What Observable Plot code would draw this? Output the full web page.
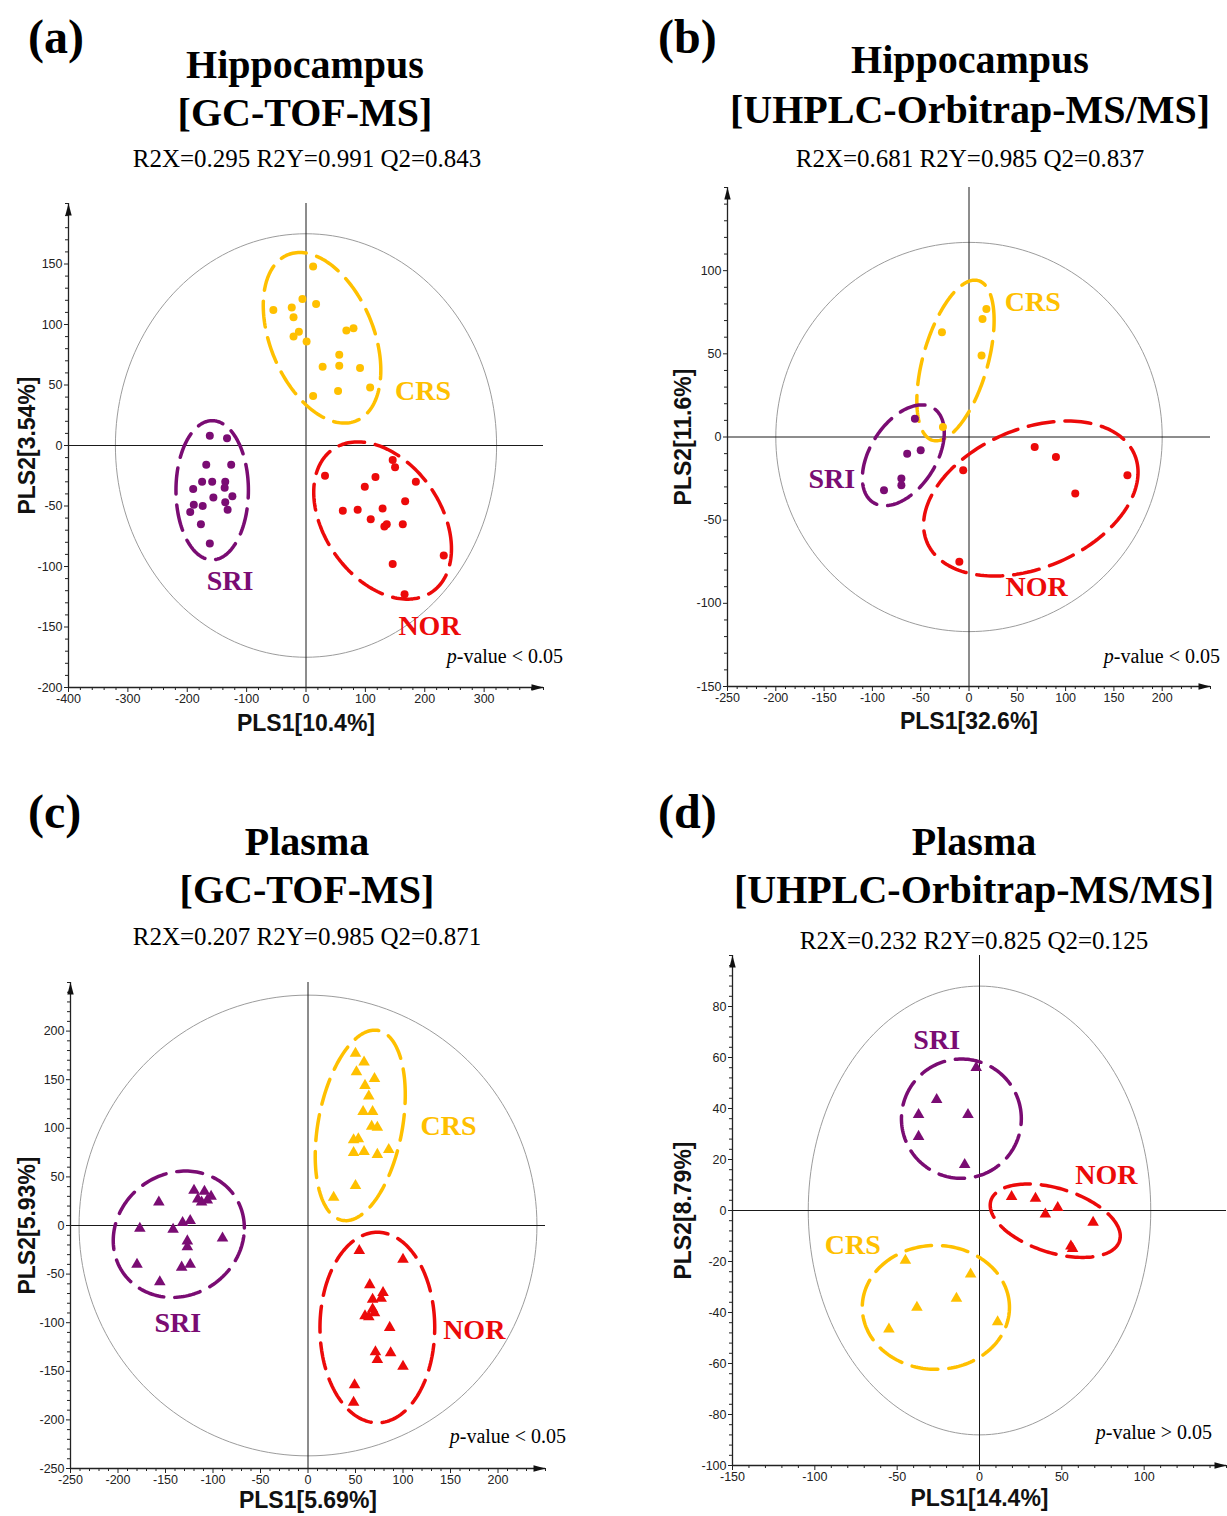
<!DOCTYPE html>
<html><head><meta charset="utf-8">
<script src="https://cdn.jsdelivr.net/npm/d3@7"></script>
<script src="https://cdn.jsdelivr.net/npm/@observablehq/plot@0.6"></script>
<style>
body{margin:0;background:#fff;}
#root{position:relative;width:1227px;height:1516px;overflow:hidden;font-family:"Liberation Serif","Times New Roman",serif;color:#000;}
.t{position:absolute;white-space:nowrap;line-height:1;}
.panel{position:absolute;}
.panel svg{overflow:visible;}
</style></head><body><div id="root"></div>
<script>
// ---------- colours per group ----------
const groupColors = {CRS: "#FFC000", SRI: "#7A0C73", NOR: "#EC0A0A"};

// ---------- (a) Hippocampus GC-TOF-MS ----------
const aCRS = [[12,148],[-6,121],[17,117],[-55,112],[-24,114],[-21,106],[-12,94],[-21,90],[1,86],[68,95],[80,97],[56,75],[28,65],[56,66],[91,64],[54,45],[108,48],[12,41]];
const aSRI = [[-162,8],[-133,6],[-168,-16],[-126,-16],[-175,-30],[-158,-30],[-136,-30],[-190,-36],[-137,-35],[-156,-43],[-124,-42],[-189,-49],[-174,-50],[-136,-47],[-195,-55],[-132,-53],[-177,-65],[-162,-81]];
const aNOR = [[32,-25],[117,-26],[99,-34],[146,-12],[150,-18],[185,-30],[167,-46],[62,-54],[87,-53],[129,-52],[109,-61],[132,-67],[136,-65],[163,-65],[232,-91],[146,-98],[166,-123]];
const aEllipses = [
  {group:"CRS", cx:27, cy:89, w:99, h:70.5, k:-0.38},
  {group:"SRI", cx:-158, cy:-37, w:61, h:57.5, k:0},
  {group:"NOR", cx:129, cy:-62, w:116, h:65, k:-0.36}];
const aHotelling = {rx:321, ry:175};
const aLabels = [{group:"CRS", x:197, y:45},{group:"SRI", x:-128, y:-112},{group:"NOR", x:208, y:-149}];
const aXTicks = [-400,-300,-200,-100,0,100,200,300];
const aYTicks = [-200,-150,-100,-50,0,50,100,150];

// ---------- (b) Hippocampus UHPLC ----------
const bCRS = [[-28,63],[18,77],[14,71],[13,49],[-27,6]];
const bSRI = [[-56,11],[-64,-10],[-50,-8],[-70,-25],[-70,-29],[-88,-32]];
const bNOR = [[68,-6],[90,-12],[-6,-20],[164,-23],[110,-34],[-10,-75]];
const bEllipses = [
  {group:"CRS", cx:-14, cy:46, w:40, h:48.3, k:0.5},
  {group:"SRI", cx:-68, cy:-11, w:42.4, h:30.3, k:0.45},
  {group:"NOR", cx:64, cy:-37, w:111, h:46.6, k:0.34}];
const bHotelling = {rx:200, ry:117};
const bLabels = [{group:"CRS", x:66, y:81},{group:"SRI", x:-142, y:-25},{group:"NOR", x:70, y:-90}];
const bXTicks = [-250,-200,-150,-100,-50,0,50,100,150,200];
const bYTicks = [-150,-100,-50,0,50,100];

// ---------- (c) Plasma GC-TOF-MS ----------
const cCRS = [[50,177],[59,168],[51,158],[70,151],[60,144],[64,133],[58,117],[68,117],[67,102],[73,101],[48,88],[53,89],[48,75],[59,76],[73,73],[85,78],[50,41],[27,29]];
const cSRI = [[-157,24],[-120,36],[-109,35],[-116,27],[-106,26],[-102,30],[-112,24],[-132,3],[-124,5],[-177,-3],[-142,-4],[-90,-13],[-127,-16],[-127,-22],[-180,-40],[-133,-43],[-124,-40],[-156,-58]];
const cNOR = [[54,-26],[100,-35],[65,-61],[79,-69],[68,-76],[77,-75],[68,-86],[60,-93],[70,-90],[64,-94],[86,-105],[71,-130],[87,-131],[73,-138],[100,-145],[49,-164],[48,-182]];
const cEllipses = [
  {group:"CRS", cx:55, cy:103, w:47.4, h:98, k:0.32},
  {group:"SRI", cx:-136, cy:-9, w:69, h:65, k:0.1},
  {group:"NOR", cx:73, cy:-105, w:60.4, h:98, k:0}];
const cHotelling = {rx:241, ry:237};
const cLabels = [{group:"CRS", x:148, y:102},{group:"SRI", x:-137, y:-100},{group:"NOR", x:175, y:-108}];
const cXTicks = [-250,-200,-150,-100,-50,0,50,100,150,200];
const cYTicks = [-250,-200,-150,-100,-50,0,50,100,150,200];

// ---------- (d) Plasma UHPLC ----------
const dSRI = [[-2,56],[-26,43.5],[-37,37.6],[-7,37.6],[-37,29],[-9,18]];
const dNOR = [[19.5,5.4],[34,4.7],[47.5,1.1],[40,-1.4],[69,-4.7],[56.5,-15],[55.5,-14]];
const dCRS = [[-45,-19.6],[-5.4,-25],[-14,-34.5],[-38,-38],[-55,-46.5],[11,-43.7]];
const dEllipses = [
  {group:"SRI", cx:-11, cy:36, w:36.4, h:23.4, k:0},
  {group:"NOR", cx:46, cy:-4, w:39.5, h:14.4, k:-0.42},
  {group:"CRS", cx:-26.5, cy:-38, w:44.7, h:24.3, k:0}];
const dHotelling = {rx:104, ry:88};
const dLabels = [{group:"SRI", x:-26, y:67},{group:"NOR", x:77, y:14},{group:"CRS", x:-77, y:-13.5}];
const dXTicks = [-150,-100,-50,0,50,100];
const dYTicks = [-100,-80,-60,-40,-20,0,20,40,60,80];

// ---------- helpers ----------
function ellipsePts(e, n = 180) {
  const s = Math.sqrt(1 - e.k * e.k);
  return d3.range(n + 1).map(i => {
    const t = 2 * Math.PI * i / n;
    return {x: e.cx + e.w * Math.cos(t), y: e.cy + e.h * (e.k * Math.cos(t) + s * Math.sin(t))};
  });
}
const arrowSymbol = {draw(ctx) { ctx.moveTo(0, 0); ctx.lineTo(3.2, 12); ctx.lineTo(-3.2, 12); ctx.closePath(); }};
function minorTicks(domain, step, major) {
  const m = new Set(major);
  return d3.range(domain[0], domain[1] + 1e-9, step).filter(v => !m.has(v));
}

function makePanel(cfg) {
  const marks = [];
  const [x0, x1] = cfg.xDomain, [y0, y1] = cfg.yDomain;
  marks.push(Plot.line(ellipsePts({cx:0, cy:0, w:cfg.hot.rx, h:cfg.hot.ry, k:0}), {x:"x", y:"y", stroke:"#9c9c9c", strokeWidth:1}));
  marks.push(Plot.ruleX([0], {stroke:"#1a1a1a", strokeWidth:1}));
  marks.push(Plot.ruleY([0], {stroke:"#1a1a1a", strokeWidth:1}));
  marks.push(Plot.ruleX([x0], {stroke:"#222", strokeWidth:1.3}));
  marks.push(Plot.ruleY([y0], {stroke:"#222", strokeWidth:1.3}));
  const tf = d => String(d);
  marks.push(Plot.axisX({ticks: cfg.xTicks, tickSize:5, tickPadding:2, tickFormat: tf, label:null, color:"#222", fontSize:12.5}));
  marks.push(Plot.axisX({ticks: minorTicks(cfg.xDomain, cfg.xMinor, cfg.xTicks), tickSize:3, tickFormat: () => "", label:null, color:"#222"}));
  marks.push(Plot.axisY({ticks: cfg.yTicks, tickSize:4, tickPadding:2, tickFormat: tf, label:null, color:"#222", fontSize:12.5}));
  marks.push(Plot.axisY({ticks: minorTicks(cfg.yDomain, cfg.yMinor, cfg.yTicks), tickSize:3, tickFormat: () => "", label:null, color:"#222"}));
  for (const e of cfg.ellipses) {
    marks.push(Plot.line(ellipsePts(e), {x:"x", y:"y", stroke: groupColors[e.group], strokeWidth:3.5, strokeDasharray:"26,11"}));
  }
  for (const [g, pts] of Object.entries(cfg.points)) {
    marks.push(Plot.dot(pts, {x: d => d[0], y: d => d[1], fill: groupColors[g], r: cfg.r, symbol: cfg.symbol}));
  }
  for (const l of cfg.labels) {
    marks.push(Plot.text([l], {x:"x", y:"y", text:"group", fill: groupColors[l.group], fontSize:28, fontWeight:"bold", fontFamily:"Liberation Serif, Times New Roman, serif"}));
  }
  marks.push(Plot.dot([[x0, y1]], {x: d => d[0], y: d => d[1], symbol: arrowSymbol, fill:"#111", r:5}));
  marks.push(Plot.dot([[x1, y0]], {x: d => d[0], y: d => d[1], symbol: arrowSymbol, fill:"#111", r:5, rotate:90}));
  marks.push(Plot.text([cfg.xLabel], {text: d => d, frameAnchor:"bottom", textAnchor:"middle", lineAnchor:"middle", dy: cfg.xTitleDy, fontSize:23, fontWeight:"bold", fontFamily:"Liberation Sans, Arial, sans-serif", fill:"#111"}));
  marks.push(Plot.text([cfg.yLabel], {text: d => d, frameAnchor:"left", textAnchor:"middle", lineAnchor:"middle", dx: cfg.yTitleDx, rotate:-90, fontSize:23, fontWeight:"bold", fontFamily:"Liberation Sans, Arial, sans-serif", fill:"#111"}));

  const svg = Plot.plot({
    width: cfg.w, height: cfg.h,
    marginLeft: cfg.m[0], marginRight: cfg.m[1], marginTop: cfg.m[2], marginBottom: cfg.m[3],
    x: {domain: cfg.xDomain},
    y: {domain: cfg.yDomain},
    style: {fontFamily: "Liberation Sans, Arial, sans-serif", fontSize: "12.5px", background: "transparent", overflow: "visible"},
    marks
  });
  const div = document.createElement("div");
  div.className = "panel";
  div.style.left = cfg.pos[0] + "px";
  div.style.top = cfg.pos[1] + "px";
  div.appendChild(svg);
  document.getElementById("root").appendChild(div);
}

function addText(html, x, y, size, opts = {}) {
  const d = document.createElement("div");
  d.className = "t";
  d.innerHTML = html;
  d.style.left = x + "px";
  d.style.top = y + "px";
  d.style.fontSize = size + "px";
  d.style.fontWeight = opts.bold ? "bold" : "normal";
  const ax = opts.anchor === "start" ? "0" : opts.anchor === "end" ? "-100%" : "-50%";
  d.style.transform = `translate(${ax},-50%)`;
  document.getElementById("root").appendChild(d);
}

// ---------- panels ----------
makePanel({pos:[0,180], w:560, h:570, m:[68,17,23,63], xDomain:[-400,400], yDomain:[-200,200],
  xTicks:aXTicks, yTicks:aYTicks, xMinor:20, yMinor:10, hot:aHotelling, ellipses:aEllipses,
  points:{CRS:aCRS, SRI:aSRI, NOR:aNOR}, r:4, symbol:"circle", labels:aLabels,
  xLabel:"PLS1[10.4%]", yLabel:"PLS2[3.54%]", yTitleDx:-41, xTitleDy:36});
makePanel({pos:[660,170], w:567, h:580, m:[67,17,17,64], xDomain:[-250,250], yDomain:[-150,150],
  xTicks:bXTicks, yTicks:bYTicks, xMinor:10, yMinor:10, hot:bHotelling, ellipses:bEllipses,
  points:{CRS:bCRS, SRI:bSRI, NOR:bNOR}, r:4, symbol:"circle", labels:bLabels,
  xLabel:"PLS1[32.6%]", yLabel:"PLS2[11.6%]", yTitleDx:-44, xTitleDy:35});
makePanel({pos:[0,960], w:560, h:556, m:[70,15,22,48], xDomain:[-250,250], yDomain:[-250,250],
  xTicks:cXTicks, yTicks:cYTicks, xMinor:10, yMinor:10, hot:cHotelling, ellipses:cEllipses,
  points:{CRS:cCRS, SRI:cSRI, NOR:cNOR}, r:4.3, symbol:"triangle", labels:cLabels,
  xLabel:"PLS1[5.69%]", yLabel:"PLS2[5.93%]", yTitleDx:-43, xTitleDy:32});
makePanel({pos:[660,945], w:567, h:571, m:[72,1,10,51], xDomain:[-150,150], yDomain:[-100,100],
  xTicks:dXTicks, yTicks:dYTicks, xMinor:10, yMinor:4, hot:dHotelling, ellipses:dEllipses,
  points:{SRI:dSRI, NOR:dNOR, CRS:dCRS}, r:4.3, symbol:"triangle", labels:dLabels,
  xLabel:"PLS1[14.4%]", yLabel:"PLS2[8.79%]", yTitleDx:-49, xTitleDy:33});

// ---------- titles ----------
addText("(a)", 28, 37, 48, {bold:true, anchor:"start"});
addText("Hippocampus", 305, 65, 40, {bold:true});
addText("[GC-TOF-MS]", 305, 113, 40, {bold:true});
addText("R2X=0.295 R2Y=0.991 Q2=0.843", 307, 158, 25);
addText("(b)", 658, 37, 48, {bold:true, anchor:"start"});
addText("Hippocampus", 970, 60, 40, {bold:true});
addText("[UHPLC-Orbitrap-MS/MS]", 970, 110, 40, {bold:true});
addText("R2X=0.681 R2Y=0.985 Q2=0.837", 970, 158, 25);
addText("(c)", 28, 812, 48, {bold:true, anchor:"start"});
addText("Plasma", 307, 842, 40, {bold:true});
addText("[GC-TOF-MS]", 307, 890, 40, {bold:true});
addText("R2X=0.207 R2Y=0.985 Q2=0.871", 307, 936, 25);
addText("(d)", 658, 812, 48, {bold:true, anchor:"start"});
addText("Plasma", 974, 842, 40, {bold:true});
addText("[UHPLC-Orbitrap-MS/MS]", 974, 890, 40, {bold:true});
addText("R2X=0.232 R2Y=0.825 Q2=0.125", 974, 940, 25);

// ---------- p-values ----------
addText("<i>p</i>-value &lt; 0.05", 563, 656, 20, {anchor:"end"});
addText("<i>p</i>-value &lt; 0.05", 1220, 656, 20, {anchor:"end"});
addText("<i>p</i>-value &lt; 0.05", 566, 1436, 20, {anchor:"end"});
addText("<i>p</i>-value &gt; 0.05", 1212, 1432, 20, {anchor:"end"});
</script></body></html>
